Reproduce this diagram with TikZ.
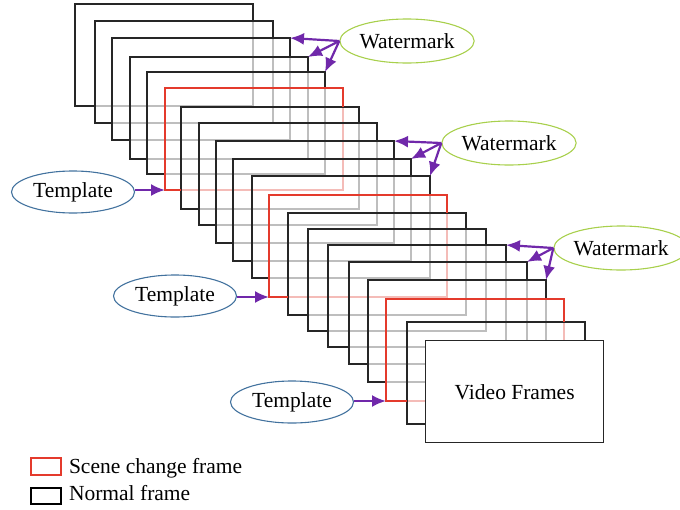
\documentclass[tikz,border=0pt]{standalone}
\usepackage{fontspec}
\setmainfont{Liberation Serif}
\usetikzlibrary{calc,shapes.geometric,arrows.meta}

\definecolor{framered}{RGB}{228,58,44}
\definecolor{hidegray}{RGB}{190,190,190}
\definecolor{hidered}{RGB}{244,188,184}
\definecolor{markgreen}{RGB}{168,208,76}
\definecolor{tempblue}{RGB}{66,114,158}
\definecolor{arrowpurple}{RGB}{112,40,170}

\tikzset{
  normalframe/.style={draw=black!85, line width=1.4pt},
  hiddenline/.style={draw=hidegray, line width=1.2pt},
  watermark/.style={ellipse, draw=markgreen, line width=1.1pt, minimum width=122pt, minimum height=44pt, inner sep=0pt},
  template/.style={ellipse, draw=tempblue, line width=1.1pt, minimum width=123pt, minimum height=42pt, inner sep=0pt},
  pointer/.style={arrowpurple, line width=2.2pt, -{Latex[length=14pt,width=12pt]}},
  keybox/.style={line width=1.2pt, minimum width=30pt, inner sep=0pt}
}

\begin{document}
\begin{tikzpicture}[x=1pt, y=-1pt, font=\fontsize{21.5}{25}\selectfont]
\useasboundingbox (0,0) rectangle (680,509);

% corners of the frames: F top left, G bottom right
\foreach \x/\y [count=\i] in {75/4, 95/21, 112/38, 130/57, 147/72, 165/88, 181/107, 199/123, 216/141, 233/159, 252/176, 269/195, 288/213, 308/229, 328/245, 349/262, 368/280, 386/299, 407/322, 425/340}
{
  \coordinate (F\i) at (\x,\y);
  \coordinate (G\i) at (\x+178,\y+102);
}

% lines behind the next frames
\foreach \i in {1,...,19}
  \draw[hiddenline] (F\i) rectangle (G\i);
\foreach \i in {6,12,18}
  \draw[hiddenline, draw=hidered] (F\i) rectangle (G\i);

% visible parts
\foreach \i [count=\j from 2] in {1,...,19}
  \draw[normalframe] (F\j |- G\i) -- (F\i |- G\i) -- (F\i) -- (G\i |- F\i) -- (G\i |- F\j);
\foreach \i/\j in {6/7,12/13,18/19}
  \draw[normalframe, draw=framered] (F\j |- G\i) -- (F\i |- G\i) -- (F\i) -- (G\i |- F\i) -- (G\i |- F\j);

\node[normalframe, fill=white, minimum width=178pt, minimum height=102pt, inner sep=0pt, anchor=north west] (video) at (F20) {Video Frames};

\node[watermark] (wm1) at (407,41) {Watermark};
\node[watermark] (wm2) at (509,143) {Watermark};
\node[watermark, minimum width=116pt] (wm3) at (621,248) {Watermark};

\node[template] (tp1) at (73,192) {Template};
\node[template] (tp2) at (175,296) {Template};
\node[template] (tp3) at (292,402) {Template};

\draw[pointer] (wm1.west) -- (G3 |- F3);
\draw[pointer] (wm1.west) -- (G4 |- F4);
\draw[pointer] (wm1.west) -- (G5 |- F5);
\draw[pointer] (wm2.west) -- (G9 |- F9);
\draw[pointer] (wm2.west) -- (G10 |- F10);
\draw[pointer] (wm2.west) -- (G11 |- F11);
\draw[pointer] (wm3.west) -- (G15 |- F15);
\draw[pointer] (wm3.west) -- (G16 |- F16);
\draw[pointer] (wm3.west) -- (G17 |- F17);

\draw[pointer] (tp1.east |- G6) -- (F6 |- G6);
\draw[pointer] (tp2.east |- G12) -- (F12 |- G12);
\draw[pointer] (tp3.east |- G18) -- (F18 |- G18);

% legend
\node[keybox, draw=framered, minimum height=17pt] (scenekey) at (46,466.5) {};
\node[anchor=base west] (scenetext) at (65.5,473) {Scene change frame};
\node[keybox, draw=black, minimum height=16pt] (normalkey) at (46,496) {};
\node[anchor=base west] (normaltext) at (65.5,500) {Normal frame};

\end{tikzpicture}
\end{document}
